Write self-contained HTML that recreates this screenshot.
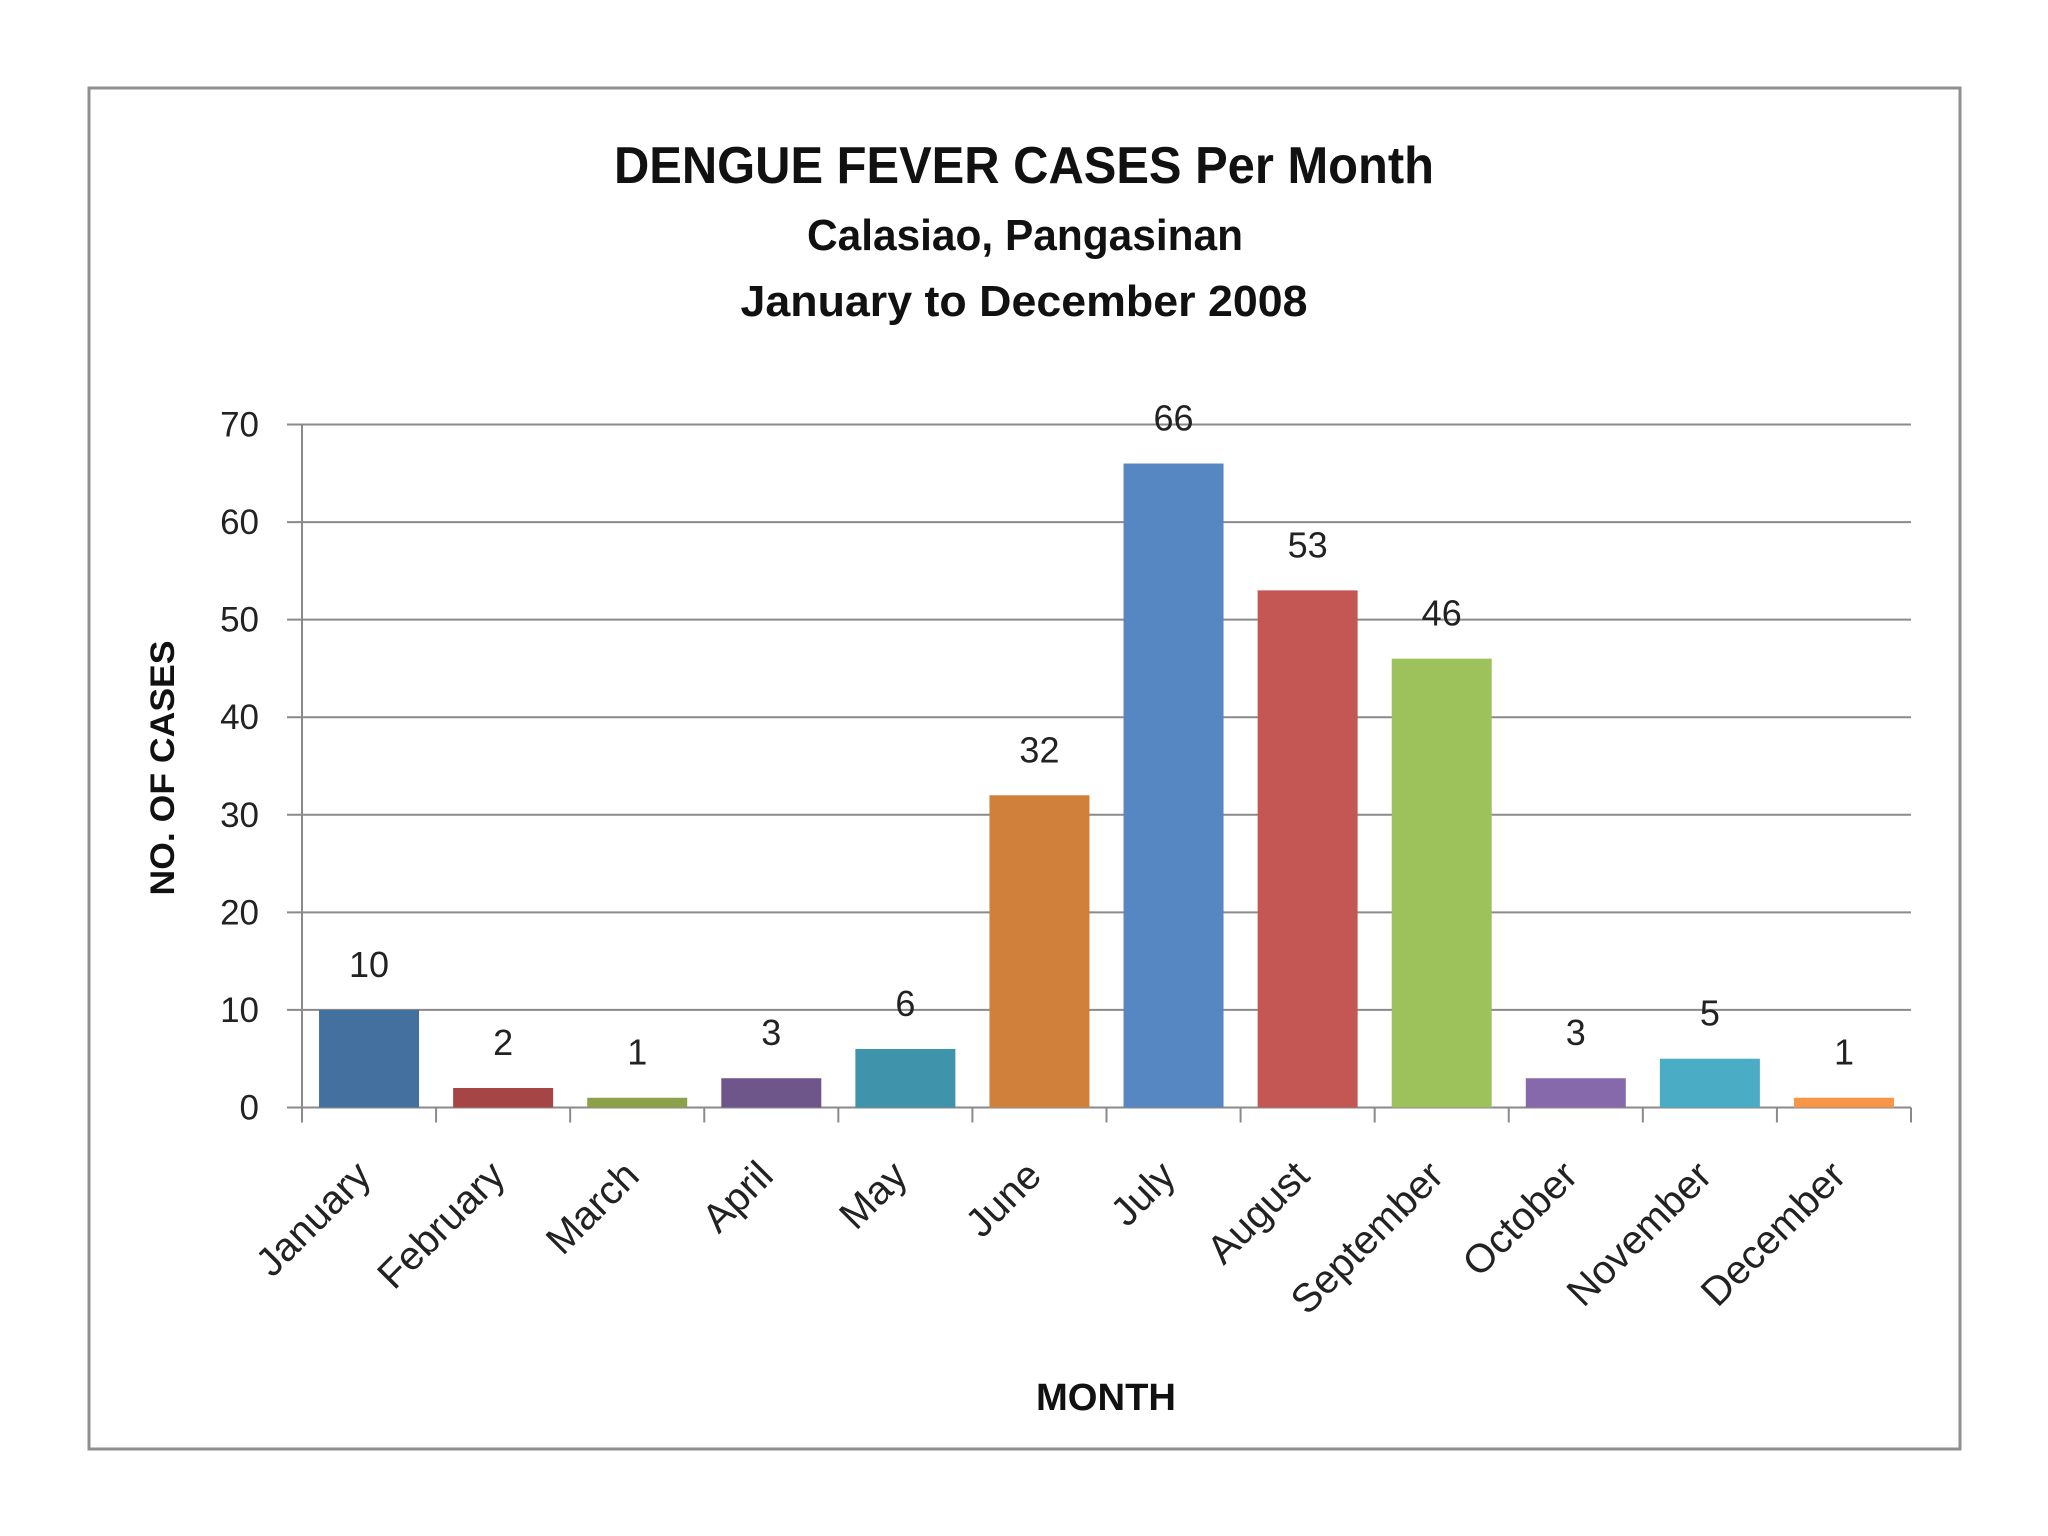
<!DOCTYPE html>
<html><head><meta charset="utf-8"><style>
html,body{margin:0;padding:0;background:#fff;}
svg{display:block;}
</style></head><body>
<svg id="chart" width="2048" height="1536" xmlns="http://www.w3.org/2000/svg" font-family="'Liberation Sans', sans-serif">
<rect x="89" y="88" width="1871" height="1361" fill="#fff" stroke="#8f8f8f" stroke-width="3"/>
<text x="1024" y="183" text-anchor="middle" font-size="52" font-weight="bold" textLength="820" lengthAdjust="spacingAndGlyphs" fill="#111">DENGUE FEVER CASES Per Month</text>
<text x="1025" y="250" text-anchor="middle" font-size="44" font-weight="bold" textLength="436" lengthAdjust="spacingAndGlyphs" fill="#111">Calasiao, Pangasinan</text>
<text x="1024" y="316" text-anchor="middle" font-size="44" font-weight="bold" textLength="567" lengthAdjust="spacingAndGlyphs" fill="#111">January to December 2008</text>
<text transform="translate(174,768) rotate(-90)" text-anchor="middle" font-size="34" font-weight="bold" textLength="255" lengthAdjust="spacingAndGlyphs" fill="#111">NO. OF CASES</text>
<text x="1106" y="1410" text-anchor="middle" font-size="38" font-weight="bold" textLength="140" lengthAdjust="spacingAndGlyphs" fill="#111">MONTH</text>
<g id="grid"></g><g id="bars"></g><g id="labels"></g>
</svg>
<script>
const categories = ["January","February","March","April","May","June","July","August","September","October","November","December"];
const values = [10,2,1,3,6,32,66,53,46,3,5,1];
const colors = ["#4470A0","#A54545","#8BA24B","#6E558A","#3F93AA","#D0803A","#5787C2","#C45753","#9DC25B","#8669AA","#4BACC6","#F79646"];
const yTicks = [0,10,20,30,40,50,60,70];

const NS = "http://www.w3.org/2000/svg";
const X0 = 302, X1 = 1911, Y0 = 1107.5, Y70 = 424.5, YMAX = 70;
const step = (X1 - X0) / categories.length;
const yScale = v => Y0 - (v / YMAX) * (Y0 - Y70);
const xBand = i => X0 + i * step;
function mk(tag, attrs, parent, txt) {
  const e = document.createElementNS(NS, tag);
  for (const k in attrs) e.setAttribute(k, attrs[k]);
  if (txt !== undefined) e.textContent = txt;
  parent.appendChild(e);
  return e;
}
const grid = document.getElementById("grid");
const bars = document.getElementById("bars");
const labels = document.getElementById("labels");

yTicks.forEach(t => {
  const y = yScale(t);
  const l = mk("line", {x1: 287, x2: X1, y1: y, y2: y, stroke: "#8a8a8a", "stroke-width": 2}, grid);
  
  
  const tx = mk("text", {x: 259, y: y + 12, "text-anchor": "end", "font-size": 35, fill: "#222"}, grid, String(t));
  
  
});
const ax = mk("line", {x1: X0, x2: X0, y1: Y70, y2: Y0 + 15, stroke: "#8a8a8a", "stroke-width": 2}, grid);


for (let i = 0; i <= categories.length; i++) {
  const tk = mk("line", {x1: xBand(i), x2: xBand(i), y1: Y0, y2: Y0 + 15, stroke: "#8a8a8a", "stroke-width": 2}, grid);
  
  
}
categories.forEach((c, i) => {
  const cx = xBand(i) + step / 2;
  const bw = 100;
  const y = yScale(values[i]);
  const r = mk("rect", {x: cx - bw / 2, y: y, width: bw, height: Y0 - y, fill: colors[i]}, bars);
  
  
  const vt = mk("text", {x: cx, y: y - 33, "text-anchor": "middle", "font-size": 36, fill: "#222"}, labels, String(values[i]));
  
  
  const ct = mk("text", {transform: "translate(" + (cx + 4) + ",1178) rotate(-45)", "text-anchor": "end", "font-size": 40, fill: "#222"}, labels, c);
  
  
});
</script>
</body></html>
